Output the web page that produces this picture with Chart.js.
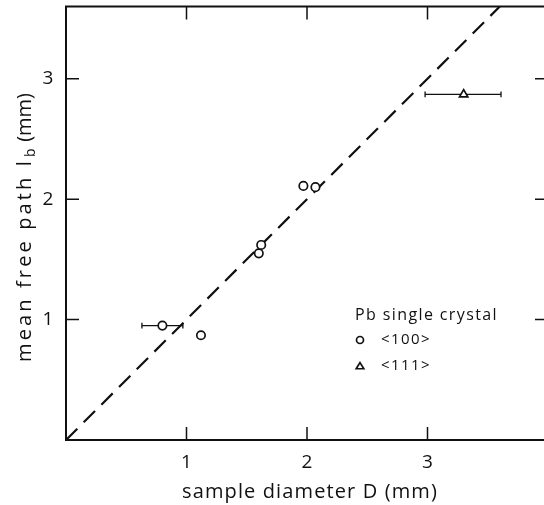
<!DOCTYPE html>
<html><head><meta charset="utf-8">
<script src="https://cdn.jsdelivr.net/npm/chart.js@4/dist/chart.umd.min.js"></script>
<style>html,body{margin:0;padding:0;overflow:hidden;background:#fff;width:544px;height:505px}canvas{display:block}</style>
</head><body><canvas id="c" width="560" height="505"></canvas>
<script>
// <100> crystals
const diam100 = [0.80, 1.12, 1.60, 1.62, 1.97, 2.07];
const path100 = [0.95, 0.87, 1.55, 1.62, 2.11, 2.10];
// <111> crystal
const diam111 = [3.30];
const path111 = [2.87];
// horizontal error bars (x low, x high) at given points
const errX  = [0.80, 3.30];
const errY  = [0.95, 2.87];
const errLo = [0.63, 2.98];
const errHi = [0.97, 3.61];
// l_b = D line
const fitX = [0, 3.6];
const fitY = [0, 3.6];
// ticks
const xTicks = [1, 2, 3];
const yTicks = [1, 2, 3];
const xLabel = 'sample diameter D (mm)';
const yLabelMain = 'mean free path l';
const yLabelSub = 'b';
const yLabelTail = ' (mm)';
const legendTitle = 'Pb single crystal';
const legendNames = ['<100>', '<111>'];

const FONT = '"Open Sans", Lato, sans-serif';
const INK = '#111';

function pts(xs, ys){ return xs.map((x,i)=>({x, y: ys[i]})); }

// draw text spread to a target width via letter spacing
function fitText(ctx, text, x, y, target){
  ctx.letterSpacing = '0px';
  const w0 = ctx.measureText(text).width;
  const sp = Math.max(0, (target - w0) / text.length);
  ctx.letterSpacing = sp + 'px';
  ctx.fillText(text, x, y);
  ctx.letterSpacing = '0px';
}

function drawMarker(ctx, style, x, y, r){
  ctx.save();
  ctx.lineWidth = 1.7; ctx.strokeStyle = INK; ctx.fillStyle = '#fff';
  ctx.beginPath();
  if (style === 'circle'){ ctx.arc(x, y, r, 0, Math.PI*2); }
  else { const h = r*1.6; ctx.moveTo(x, y - h*0.55); ctx.lineTo(x + r, y + h*0.45); ctx.lineTo(x - r, y + h*0.45); ctx.closePath(); }
  ctx.fill(); ctx.stroke(); ctx.restore();
}

const decor = {
  id: 'decor',
  beforeDatasetsDraw(chart){
    const {ctx, scales:{x, y}} = chart;
    ctx.save();
    ctx.strokeStyle = INK; ctx.lineWidth = 1.3;
    errX.forEach((v,i)=>{
      const py = y.getPixelForValue(errY[i]);
      const a = x.getPixelForValue(errLo[i]), b = x.getPixelForValue(errHi[i]);
      ctx.beginPath(); ctx.moveTo(a, py); ctx.lineTo(b, py);
      ctx.moveTo(a, py-2.8); ctx.lineTo(a, py+2.8);
      ctx.moveTo(b, py-2.8); ctx.lineTo(b, py+2.8);
      ctx.stroke();
    });
    ctx.restore();
  },
  afterDraw(chart){
    const {ctx, chartArea:ca, scales:{x, y}} = chart;
    ctx.save();
    // frame
    ctx.strokeStyle = INK; ctx.lineWidth = 2;
    ctx.strokeRect(ca.left, ca.top, ca.right - ca.left, ca.bottom - ca.top);
    // inward ticks
    const TL = 13;
    ctx.lineWidth = 1.5;
    ctx.beginPath();
    xTicks.forEach(t=>{
      const px = x.getPixelForValue(t);
      ctx.moveTo(px, ca.bottom); ctx.lineTo(px, ca.bottom - TL);
      ctx.moveTo(px, ca.top); ctx.lineTo(px, ca.top + TL);
    });
    yTicks.forEach(t=>{
      const py = y.getPixelForValue(t);
      ctx.moveTo(ca.left, py); ctx.lineTo(ca.left + TL, py);
      ctx.moveTo(ca.right, py); ctx.lineTo(ca.right - TL, py);
    });
    ctx.stroke();
    // tick labels
    ctx.fillStyle = INK;
    ctx.font = '19px ' + FONT;
    ctx.textAlign = 'center'; ctx.textBaseline = 'middle';
    xTicks.forEach(t=> ctx.fillText(String(t), x.getPixelForValue(t), ca.bottom + 23));
    yTicks.forEach(t=> ctx.fillText(String(t), ca.left - 18, y.getPixelForValue(t)));
    // x title
    ctx.textAlign = 'left';
    ctx.font = '20px ' + FONT;
    fitText(ctx, xLabel, 182, 492, 256);
    // y title with subscript
    ctx.save();
    ctx.translate(25, 362);
    ctx.rotate(-Math.PI/2);
    const big = '20px ' + FONT, small = '14px ' + FONT;
    const mainW = 204, subW = 11, tailW = 46;
    ctx.font = big; fitText(ctx, yLabelMain, 0, 0, mainW);
    ctx.font = small; ctx.fillText(yLabelSub, mainW + 1, 6);
    ctx.font = big; fitText(ctx, yLabelTail, mainW + subW, 0, tailW);
    ctx.restore();
    // legend
    ctx.font = '16px ' + FONT; ctx.textAlign = 'left';
    fitText(ctx, legendTitle, 355, 315, 143);
    drawMarker(ctx, 'circle', 360, 340, 3.5);
    drawMarker(ctx, 'triangle', 360, 366, 3.8);
    ctx.font = '15px ' + FONT;
    fitText(ctx, legendNames[0], 381, 340, 50);
    fitText(ctx, legendNames[1], 381, 366, 50);
    ctx.restore();
  }
};

new Chart(document.getElementById('c'), {
  type: 'scatter',
  data: {
    datasets: [
      { label: 'fit', type: 'line', data: pts(fitX, fitY), borderColor: INK, borderWidth: 2.2,
        borderDash: [16, 9], pointRadius: 0, fill: false, tension: 0, order: 3 },
      { label: '<100>', data: pts(diam100, path100), pointStyle: 'circle', pointRadius: 4.2,
        borderColor: INK, backgroundColor: '#fff', pointBorderWidth: 1.7, borderWidth: 1.7, order: 1 },
      { label: '<111>', data: pts(diam111, path111), pointStyle: 'triangle', pointRadius: 4.8,
        borderColor: INK, backgroundColor: '#fff', pointBorderWidth: 1.7, borderWidth: 1.7, order: 1 }
    ]
  },
  options: {
    responsive: false, animation: false, devicePixelRatio: 1,
    layout: { padding: { left: 66, right: 12, top: 5, bottom: 65 } },
    plugins: { legend: { display: false }, tooltip: { enabled: false } },
    scales: {
      x: { type: 'linear', min: 0, max: 4, display: false },
      y: { type: 'linear', min: 0, max: 3.6, display: false }
    }
  },
  plugins: [decor]
});
</script>
</body></html>
